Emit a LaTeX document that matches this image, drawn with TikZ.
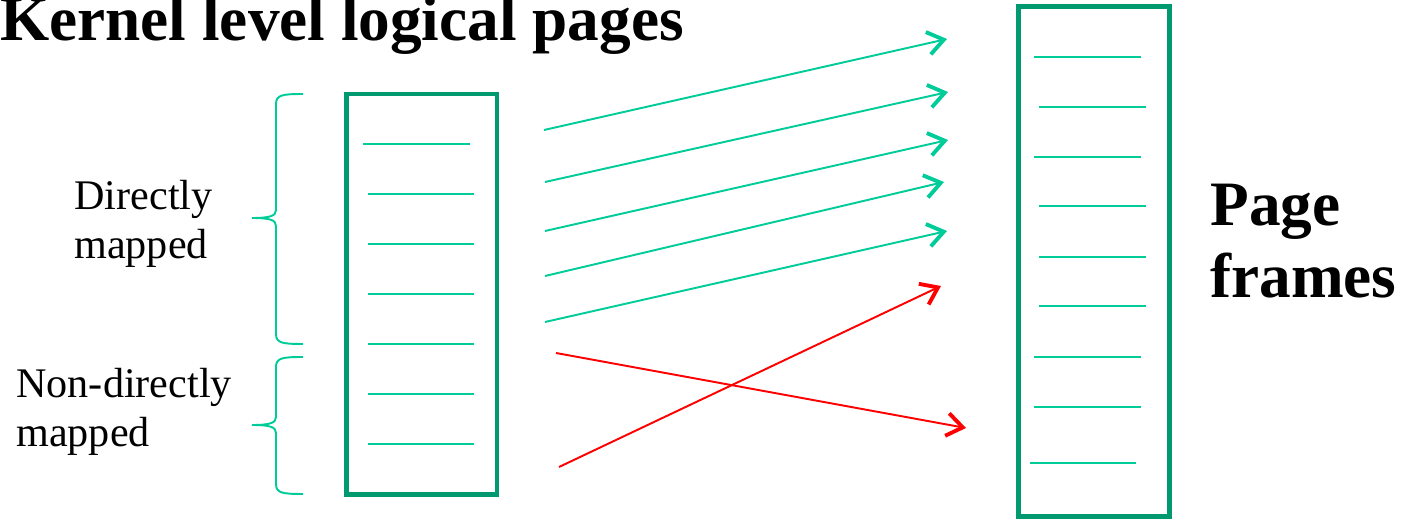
\documentclass[tikz,border=0pt]{standalone}
\usepackage{fontspec}
\setmainfont{Liberation Serif}
\usetikzlibrary{positioning, arrows.meta}
\definecolor{boxgreen}{RGB}{0,153,112}
\definecolor{linegreen}{RGB}{0,204,153}
\tikzset{
    page/.style={draw=boxgreen, line width=2.6pt, minimum width=3.01cm, inner sep=0pt}, % the two columns of pages
    slot/.style={draw=linegreen, line width=1.1pt},
    lbl/.style={inner sep=0pt, align=left, font=\fontsize{24}{28.3}\selectfont},
    heading/.style={inner sep=0pt, align=left, font=\fontsize{36}{41.4}\selectfont\bfseries},
    curly/.style={draw=linegreen, line width=1.1pt},
}
\tikzstyle{arrow} = [line width=1.1pt, -{Straight Barb[length=9pt, width=13pt, line width=2.2pt]}]

\begin{document}
\begin{tikzpicture}[x=0.02cm, y=-0.02cm]
    \useasboundingbox (0,0) rectangle (1403,519);

    % Testi
    \node[heading, anchor=base west] (title) at (0,41) {Kernel level logical pages};
    \node[lbl, anchor=base west] (direct) at (74,259) {Directly\\mapped};
    \node[lbl, anchor=base west] (nondirect) at (16,447) {Non-directly\\mapped};
    \node[heading, anchor=base west] (pf) at (1210,298) {Page\\frames};

    % Colonne
    \node[page, minimum height=8.01cm] (logic) at (421.75,294.25) {};
    \node[page, line width=2.8pt, minimum height=10.2cm] (frames) at (1094,261.5) {};
    \foreach \y/\a/\b in {144/363/470, 194/368/474, 244/368/474, 294/368/474, 344/368/474, 394/368/474, 444/368/474}
        \draw[slot] (\a,\y) -- (\b,\y);
    \foreach \y/\a/\b in {57/1034/1141, 107/1039/1146, 157/1034/1141, 206/1039/1146, 257/1039/1146, 306/1039/1146, 357/1034/1141, 407/1034/1141, 463/1030/1136}
        \draw[slot] (\a,\y) -- (\b,\y);

    % Parentesi
    \draw[curly] (303,94) .. controls (282,94) and (276,95) .. (276,104) -- (276,210)
        .. controls (276,216) and (270,218) .. (252,218)
        .. controls (270,218) and (276,220) .. (276,226) -- (276,334)
        .. controls (276,343) and (282,344) .. (303,344);
    \draw[curly] (303,357) .. controls (282,357) and (276,358) .. (276,367) -- (276,417)
        .. controls (276,423) and (270,425) .. (252,425)
        .. controls (270,425) and (276,427) .. (276,433) -- (276,484)
        .. controls (276,493) and (282,494) .. (303,494);

    % Frecce
    \coordinate (g1) at (544,130);   \coordinate (h1) at (947,39);
    \coordinate (g2) at (545,182);   \coordinate (h2) at (948,92);
    \coordinate (g3) at (545,231);   \coordinate (h3) at (948,140);
    \coordinate (g4) at (545,276);   \coordinate (h4) at (944,182);
    \coordinate (g5) at (545,322);   \coordinate (h5) at (947,231);
    \coordinate (r1) at (556,353);   \coordinate (s1) at (966,428);
    \coordinate (r2) at (559,467);   \coordinate (s2) at (941,286);
    \draw[arrow, linegreen] (g1) -- (h1);
    \draw[arrow, linegreen] (g2) -- (h2);
    \draw[arrow, linegreen] (g3) -- (h3);
    \draw[arrow, linegreen] (g4) -- (h4);
    \draw[arrow, linegreen] (g5) -- (h5);
    \draw[arrow, red] (r1) -- (s1);
    \draw[arrow, red] (r2) -- (s2);
\end{tikzpicture}
\end{document}
